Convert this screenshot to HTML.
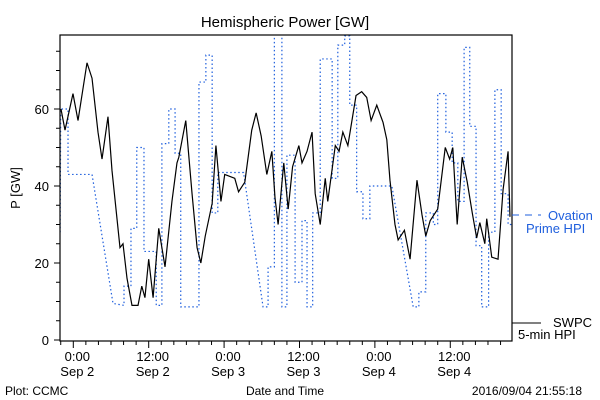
<!DOCTYPE html>
<html><head><meta charset="utf-8"><style>
body{margin:0;background:#fff}
svg{display:block;font-family:"Liberation Sans",sans-serif}
</style></head><body>
<svg id="c" width="600" height="400" viewBox="0 0 600 400">
<rect width="600" height="400" fill="#fff"/>
<text x="285" y="27" font-size="15" text-anchor="middle">Hemispheric Power [GW]</text>
<text transform="translate(20,188) rotate(-90)" font-size="13" text-anchor="middle">P [GW]</text>
<text x="285" y="395" font-size="12" text-anchor="middle">Date and Time</text>
<text x="5" y="395" font-size="12">Plot: CCMC</text>
<text x="582" y="395" font-size="12" text-anchor="end">2016/09/04 21:55:18</text>
<g id="axes"></g>
<g id="series"></g>
<rect x="60" y="35" width="452" height="306" fill="none" stroke="#000" stroke-width="1.2"/>
<g>
<line x1="512" y1="215" x2="541" y2="215" stroke="#1f5fdd" stroke-dasharray="7,6"/>
<text x="548" y="220" font-size="13" fill="#1f5fdd">Ovation</text>
<text x="526" y="233" font-size="13" fill="#1f5fdd">Prime HPI</text>
</g>
<g>
<line x1="512" y1="323" x2="541" y2="323" stroke="#000"/>
<text x="553" y="327" font-size="13">SWPC</text>
<text x="518" y="339" font-size="13">5-min HPI</text>
</g>
</svg>
<script>
const yTicks=[0,20,40,60];
const xTickHours=[0,12,24,36,48,60];
const xTickTop=["0:00","12:00","0:00","12:00","0:00","12:00"];
const xTickBottom=["Sep 2","Sep 2","Sep 3","Sep 3","Sep 4","Sep 4"];
const swpcT=[-1.96,-1.32,-0.05,0.75,2.18,2.98,3.93,4.57,5.52,6.16,7.43,7.91,8.55,9.34,10.3,10.9,11.4,12.0,12.7,13.6,14.6,15.7,16.5,16.8,17.9,18.9,19.7,20.3,21.0,22.1,22.7,23.5,24.1,25.7,26.3,27.3,28.4,29.1,29.9,30.8,31.6,32.1,32.6,33.5,34.2,34.9,35.9,36.4,37.2,38.0,38.5,39.3,40.1,40.5,41.7,42.3,42.9,43.7,45.0,45.9,46.7,47.4,48.3,49.3,49.9,50.4,51.2,51.7,52.7,53.6,54.7,55.5,56.1,56.8,58.0,59.2,59.9,60.4,61.1,61.9,62.7,63.5,64.2,64.7,65.5,65.8,66.6,67.6,68.4,69.2,69.5];
const swpcV=[60,54.5,64,57,72,68,54,47,58,44,24,25,16,9,9,14,11,21,11,29,19,36,46,47.5,57,38,24,20,27,35.5,50.5,36,43,42,38.5,41,54.5,59,53,43,49,37,30,46,34,45,50.5,46,49,54,38,30,42,36,50.5,49,54,50.5,63.5,64.5,63,57,61,56.5,52,41.5,30,26,28.5,21,41.5,32.5,27,31,34,50,47,50,30,47.5,41,33,26.5,30.5,25,31.5,21.5,21,39,49,32];
const ovT=[-2.1,-2.0,-0.84,-0.84,2.98,6.32,8.07,8.07,9.18,9.18,10.1,10.1,11.25,11.25,13.2,13.2,14.1,14.1,15.2,15.2,16.2,16.2,17.1,17.1,20.0,20.0,21.1,21.1,22.1,22.1,23.0,23.0,27.1,30.2,31.0,31.0,32.0,32.0,33.2,33.2,34.0,34.0,35.3,35.3,36.4,36.4,37.2,37.2,38.1,38.1,39.3,39.3,41.2,41.2,42.1,42.1,43.2,43.2,44.0,44.0,45.1,45.1,46.1,46.1,47.2,47.2,50.7,54.1,55.0,55.0,56.1,56.1,57.3,57.3,58.0,58.0,59.3,59.3,60.3,60.3,61.2,61.2,62.2,62.2,63.1,63.1,64.1,64.1,65.0,65.0,66.1,66.1,67.1,67.1,68.1,68.1,69.2,69.2,69.8];
const ovV=[28,60,60,43,43,9.5,9,14,14,29,29,50,50,23,23,9,9,51,51,60,60,48.5,48.5,8.6,8.6,67,67,74,74,33,33,43.5,43.5,8.6,8.6,19,19,82,82,8.6,8.6,48,48,15,15,31,31,8.6,8.6,33,33,73,73,42,42,76.6,76.6,79,79,61,61,38.5,38.5,31.5,31.5,40,40,8.6,8.6,12.5,12.5,33,33,30,30,64,64,54,54,46,46,36,36,76,76,55.5,55.5,24.5,24.5,8.6,8.6,28,28,65,65,38,38,30,30];

const NS="http://www.w3.org/2000/svg";
const X0=60,X1=512,Y0=35,Y1=341;
function xs(h){return 73.3+h*6.283;}
function ys(v){return 340-v*3.85;}
function mk(tag,attrs,parent){const e=document.createElementNS(NS,tag);for(const k in attrs)e.setAttribute(k,attrs[k]);parent.appendChild(e);return e;}
const svg=document.getElementById('c');
const axes=document.getElementById('axes');
const series=document.getElementById('series');
const defs=mk('defs',{},svg);
const cp=mk('clipPath',{id:'clip'},defs);
mk('rect',{x:X0,y:Y0,width:X1-X0,height:Y1-Y0},cp);
// y ticks
for(let v=0;v<=80;v+=5){
  const y=ys(v);if(y<Y0)continue;
  const major=v%20===0;
  const t=mk('line',{x1:X0-(major?6:4),x2:X0,y1:y,y2:y,stroke:'#000'},axes);
  
  
}
yTicks.forEach(v=>{
  const t=mk('text',{x:49,y:ys(v)+5,'font-size':13,'text-anchor':'end'},axes);
  t.textContent=v;
  
  
});
// x ticks
for(let h=-2;h<=70;h+=2){
  const x=xs(h);if(x<X0||x>X1)continue;
  const major=h%12===0;
  const t=mk('line',{x1:x,x2:x,y1:Y1,y2:Y1+(major?7:4),stroke:'#000'},axes);
  
  
}
xTickHours.forEach((h,i)=>{
  const a=mk('text',{x:xs(h)+4,y:361,'font-size':13,'text-anchor':'middle'},axes);
  a.textContent=xTickTop[i];
  
  
  const b=mk('text',{x:xs(h)+4,y:376,'font-size':13,'text-anchor':'middle'},axes);
  b.textContent=xTickBottom[i];
  
  
});
// series
const g=mk('g',{'clip-path':'url(#clip)'},series);
const ov=mk('polyline',{points:ovT.map((t,i)=>xs(t)+','+ys(ovV[i])).join(' '),fill:'none',stroke:'#1f5fdd','stroke-width':1.2,'stroke-dasharray':'1.5,2.5'},g);


const sw=mk('polyline',{points:swpcT.map((t,i)=>xs(t)+','+ys(swpcV[i])).join(' '),fill:'none',stroke:'#000','stroke-width':1.2},g);


</script>
</body></html>
